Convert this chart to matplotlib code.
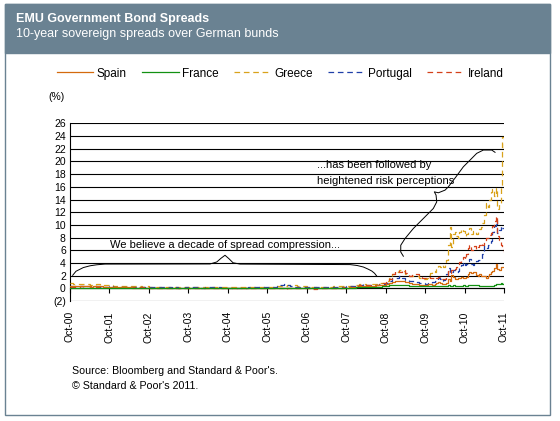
import numpy as np
import pandas as pd
import matplotlib
matplotlib.use("Agg")
import matplotlib.pyplot as plt
from matplotlib.patches import Rectangle

plt.rcParams['font.family'] = ['Liberation Sans', 'DejaVu Sans']

# monthly points up to Sep-09, then twice a month up to Oct-11
monthly_dates = pd.date_range('2000-10-01', '2009-09-01', freq='MS')
semi_dates = pd.date_range('2009-10-01', '2011-10-01', freq='SMS')

greece_m = [0.78, 0.74, 0.70, 0.66, 0.62, 0.64, 0.60, 0.58, 0.62, 0.56, 0.52, 0.50,
            0.45, 0.42, 0.40, 0.38, 0.35, 0.36, 0.33, 0.32, 0.34, 0.30, 0.28, 0.30,
            0.28, 0.26, 0.25, 0.24, 0.22, 0.20, 0.18, 0.20, 0.18, 0.16, 0.18, 0.20,
            0.18, 0.17, 0.16, 0.18, 0.20, 0.22, 0.20, 0.18, 0.16, 0.18, 0.20, 0.22,
            0.24, 0.22, 0.20, 0.18, 0.17, 0.20, 0.22, 0.25, 0.28, 0.25, 0.22, 0.20,
            0.25, 0.28, 0.30, 0.32, 0.35, 0.40, 0.45, 0.50, 0.48, 0.42, 0.35, 0.30,
            0.28, 0.26, 0.25, 0.24, 0.26, 0.25, 0.27, 0.28, 0.30, 0.32, 0.35, 0.38,
            0.35, 0.40, 0.45, 0.55, 0.65, 0.75, 0.60, 0.65, 0.70, 0.75, 0.80, 0.90,
            1.20, 1.60, 2.30, 2.60, 2.90, 2.80, 2.20, 2.00, 2.00, 1.90, 1.70, 1.50]
greece_s = [1.4, 1.6, 2.1, 2.4, 2.6, 2.8,
            2.5, 3.0, 3.5, 3.4, 3.6, 3.3, 3.9, 4.5, 6.8, 9.6, 6.5, 8.6,
            8.9, 8.2, 8.0, 8.9, 9.4, 9.0, 8.2, 8.6, 9.0, 9.5, 8.6, 9.0,
            8.8, 8.5, 8.9, 9.3, 9.6, 10.3, 11.5, 13.5, 12.8, 14.0, 15.2, 15.6,
            14.6, 15.8, 12.5, 13.5, 16.0, 23.8, 21.5]

portugal_m = [0.35, 0.35, 0.33, 0.32, 0.30, 0.30, 0.28, 0.30, 0.30, 0.28, 0.27, 0.28,
              0.30, 0.28, 0.25, 0.24, 0.22, 0.20, 0.20, 0.18, 0.20, 0.20, 0.18, 0.20,
              0.20, 0.18, 0.16, 0.15, 0.14, 0.15, 0.14, 0.12, 0.13, 0.12, 0.12, 0.14,
              0.15, 0.14, 0.13, 0.12, 0.12, 0.13, 0.14, 0.15, 0.14, 0.13, 0.12, 0.12,
              0.12, 0.11, 0.10, 0.10, 0.10, 0.12, 0.13, 0.14, 0.15, 0.16, 0.15, 0.14,
              0.16, 0.20, 0.25, 0.30, 0.55, 0.75, 0.50, 0.30, 0.25, 0.22, 0.20, 0.20,
              0.18, 0.17, 0.16, 0.15, 0.15, 0.16, 0.17, 0.18, 0.20, 0.22, 0.25, 0.28,
              0.30, 0.35, 0.40, 0.50, 0.55, 0.65, 0.55, 0.50, 0.55, 0.60, 0.65, 0.70,
              0.90, 1.20, 1.60, 1.70, 1.90, 1.60, 1.30, 1.20, 1.10, 1.00, 0.90, 0.80]
portugal_s = [0.7, 0.75, 0.8, 0.9, 1.0, 1.0,
              1.1, 1.3, 1.6, 1.4, 1.2, 1.3, 1.5, 2.2, 3.2, 2.4, 2.6, 2.9,
              2.8, 2.6, 2.7, 3.2, 3.6, 4.2, 3.6, 3.9, 4.3, 4.6, 3.8, 3.7,
              4.1, 4.3, 4.5, 4.4, 4.6, 5.4, 6.6, 6.4, 6.8, 6.9, 7.4, 8.8,
              9.8, 10.7, 8.7, 9.2, 9.9, 9.5, 9.3]

ireland_m = [0.25, 0.27, 0.28, 0.30, 0.28, 0.30, 0.32, 0.30, 0.28, 0.30, 0.27, 0.25,
             0.25, 0.24, 0.22, 0.20, 0.18, 0.18, 0.16, 0.15, 0.16, 0.15, 0.14, 0.14,
             0.12, 0.10, 0.10, 0.09, 0.08, 0.08, 0.07, 0.08, 0.07, 0.06, 0.06, 0.06,
             0.05, 0.05, 0.05, 0.04, 0.05, 0.05, 0.04, 0.04, 0.04, 0.05, 0.05, 0.05,
             0.04, 0.03, 0.03, 0.03, 0.04, 0.05, 0.05, 0.04, 0.04, 0.03, 0.03, 0.03,
             0.03, 0.03, 0.02, 0.00, -0.02, -0.04, 0.00, 0.02, 0.03, 0.02, 0.02, 0.03,
             0.02, 0.00, -0.05, -0.02, 0.02, 0.03, 0.05, 0.04, 0.05, 0.08, 0.12, 0.15,
             0.18, 0.22, 0.28, 0.35, 0.45, 0.60, 0.45, 0.50, 0.55, 0.60, 0.70, 0.85,
             1.00, 1.50, 2.20, 2.80, 2.60, 2.90, 2.40, 2.00, 2.30, 2.20, 1.80, 1.70]
ireland_s = [1.6, 1.7, 1.8, 1.7, 1.7, 1.6,
             1.5, 1.6, 1.8, 1.6, 1.5, 1.4, 1.5, 1.8, 2.8, 2.4, 2.9, 2.7,
             3.0, 3.4, 3.6, 4.2, 4.6, 5.0, 4.6, 5.4, 6.3, 6.8, 6.0, 6.4,
             6.7, 6.2, 6.5, 6.8, 7.2, 6.8, 7.5, 7.9, 8.0, 8.4, 8.7, 9.8,
             10.6, 11.4, 8.2, 7.6, 6.8, 6.4, 5.8]

spain_m = [0.30, 0.32, 0.35, 0.33, 0.30, 0.30, 0.28, 0.30, 0.32, 0.30, 0.28, 0.28,
           0.28, 0.25, 0.22, 0.20, 0.18, 0.15, 0.14, 0.12, 0.12, 0.10, 0.10, 0.10,
           0.10, 0.08, 0.08, 0.07, 0.06, 0.06, 0.05, 0.06, 0.05, 0.05, 0.04, 0.04,
           0.04, 0.03, 0.03, 0.03, 0.03, 0.02, 0.02, 0.03, 0.03, 0.03, 0.02, 0.02,
           0.02, 0.02, 0.02, 0.01, 0.01, 0.02, 0.02, 0.03, 0.02, 0.01, 0.01, 0.01,
           0.01, 0.01, 0.00, -0.01, -0.02, 0.00, 0.02, 0.03, 0.02, 0.02, 0.03, 0.03,
           0.03, 0.02, 0.02, 0.03, 0.04, 0.05, 0.05, 0.06, 0.06, 0.08, 0.10, 0.12,
           0.10, 0.15, 0.18, 0.25, 0.30, 0.40, 0.30, 0.35, 0.40, 0.50, 0.55, 0.60,
           0.70, 0.90, 1.00, 1.20, 1.10, 1.10, 1.00, 0.80, 0.70, 0.65, 0.60, 0.60]
spain_s = [0.6, 0.6, 0.65, 0.7, 0.6, 0.6,
           0.65, 0.8, 0.95, 0.8, 0.75, 0.7, 0.75, 0.9, 1.5, 1.2, 2.1, 1.8,
           1.5, 1.4, 1.6, 1.7, 1.8, 1.6, 1.6, 1.8, 2.3, 2.6, 2.4, 2.6,
           2.5, 2.1, 2.0, 2.2, 2.0, 1.9, 1.9, 1.7, 2.0, 2.3, 2.5, 2.7,
           3.2, 3.9, 3.0, 2.9, 3.3, 3.4, 3.3]

france_m = [0.10, 0.10, 0.10, 0.08, 0.08, 0.08, 0.07, 0.07, 0.07, 0.06, 0.06, 0.06,
            0.06, 0.05, 0.05, 0.05, 0.05, 0.05, 0.04, 0.04, 0.04, 0.04, 0.04, 0.04,
            0.04, 0.04, 0.04, 0.04, 0.03, 0.03, 0.03, 0.03, 0.03, 0.03, 0.03, 0.03,
            0.03, 0.03, 0.03, 0.03, 0.03, 0.03, 0.03, 0.03, 0.03, 0.03, 0.03, 0.03,
            0.03, 0.03, 0.03, 0.03, 0.03, 0.03, 0.03, 0.03, 0.03, 0.03, 0.03, 0.03,
            0.03, 0.03, 0.03, 0.03, 0.03, 0.03, 0.03, 0.03, 0.03, 0.03, 0.03, 0.03,
            0.03, 0.03, 0.03, 0.04, 0.04, 0.04, 0.05, 0.05, 0.05, 0.06, 0.07, 0.08,
            0.08, 0.10, 0.12, 0.15, 0.20, 0.25, 0.20, 0.18, 0.20, 0.22, 0.25, 0.30,
            0.40, 0.50, 0.55, 0.60, 0.50, 0.50, 0.45, 0.40, 0.35, 0.30, 0.30, 0.30]
france_s = [0.3, 0.3, 0.35, 0.35, 0.3, 0.3,
            0.3, 0.35, 0.4, 0.35, 0.35, 0.3, 0.3, 0.35, 0.45, 0.4, 0.4, 0.45,
            0.4, 0.35, 0.35, 0.35, 0.4, 0.45, 0.35, 0.4, 0.5, 0.55, 0.45, 0.5,
            0.45, 0.45, 0.45, 0.4, 0.4, 0.4, 0.35, 0.35, 0.35, 0.4, 0.4, 0.4,
            0.5, 0.7, 0.7, 0.75, 0.8, 0.75, 0.8]

tick_labels = ['Oct-00', 'Oct-01', 'Oct-02', 'Oct-03', 'Oct-04', 'Oct-05',
               'Oct-06', 'Oct-07', 'Oct-08', 'Oct-09', 'Oct-10', 'Oct-11']
y_ticks = [-2, 0, 2, 4, 6, 8, 10, 12, 14, 16, 18, 20, 22, 24, 26]

# hand drawn braces of the callouts, in (year, %) units
brace1_x = [2000.818, 2000.902, 2001.087, 2001.257, 2001.427, 2001.637, 2004.299,
            2004.469, 2004.578, 2004.679, 2004.780, 2004.882, 2005.059, 2007.848,
            2008.025, 2008.185, 2008.304, 2008.398, 2008.469, 2008.519]
brace1_y = [2.05, 2.69, 3.27, 3.55, 3.71, 3.82, 3.84, 4.15, 4.74, 5.21, 4.66, 4.03,
            3.82, 3.74, 3.60, 3.36, 3.03, 2.73, 2.37, 1.97]
brace2_x = [2009.199, 2009.133, 2009.133, 2009.242, 2009.452, 2009.706, 2009.959,
            2010.045, 2010.028, 2009.984, 2010.086, 2010.256, 2010.339, 2010.509,
            2010.720, 2010.890, 2011.059, 2011.227, 2011.439, 2011.523]
brace2_y = [5.06, 5.73, 6.79, 7.85, 9.43, 11.01, 12.59, 13.63, 14.69, 15.21, 15.06,
            15.48, 16.00, 17.38, 19.16, 20.22, 21.28, 21.80, 21.80, 21.44]


def to_year(dates):
    return dates.year + (dates.month - 1) / 12 + (dates.day - 1) / 365


x = np.concatenate([to_year(monthly_dates), to_year(semi_dates)])

BAR = '#6A8292'
fig = plt.figure(figsize=(5.6, 4.21), dpi=100)

# frame and title bar, kept under the axes
fig.patches.append(Rectangle((5 / 560, 1 - 415 / 421), 545 / 560, 411 / 421,
                             transform=fig.transFigure, facecolor='white',
                             edgecolor=BAR, lw=1, zorder=-2))
fig.patches.append(Rectangle((5 / 560, 1 - 53 / 421), 545 / 560, 49 / 421,
                             transform=fig.transFigure, facecolor=BAR,
                             edgecolor=BAR, lw=1, zorder=-1))
fig.text(16 / 560, 1 - 18.6 / 421, 'EMU Government Bond Spreads', color='white',
         fontsize=9, fontweight='bold', va='center', ha='left')
fig.text(16 / 560, 1 - 34 / 421, '10-year sovereign spreads over German bunds',
         color='white', fontsize=9, va='center', ha='left')

ax = fig.add_axes([70 / 560, 1 - 301 / 421, 434 / 560, (301 - 123.4) / 421])
ax.set_zorder(2)

dash = (0, (4.5, 3))
series = [
    ('Greece', greece_m + greece_s, '#D9A21B', dash),
    ('Portugal', portugal_m + portugal_s, '#1F3FA8', dash),
    ('Ireland', ireland_m + ireland_s, '#D4401A', dash),
    ('Spain', spain_m + spain_s, '#D46A0E', '-'),
    ('France', france_m + france_s, '#129112', '-'),
]
handles = {}
for name, vals, col, ls in series:
    ln, = ax.plot(x, vals, color=col, ls=ls, lw=0.9, label=name, zorder=3,
                  drawstyle='steps-post')
    handles[name] = ln

ax.set_ylim(-2, 26)
ax.set_yticks(y_ticks)
ax.set_yticklabels(['(2)' if v < 0 else str(v) for v in y_ticks])
ax.set_xticks([2000.75 + i for i in range(len(tick_labels))])
ax.set_xticklabels(tick_labels)
ax.set_xlim(2000.75, 2011.75)

ax.set_axisbelow(True)
ax.yaxis.grid(True, color='black', lw=0.8)
for s in ['top', 'right']:
    ax.spines[s].set_visible(False)
ax.spines['bottom'].set_position(('data', 0))
ax.spines['bottom'].set_linewidth(0.8)
ax.spines['left'].set_linewidth(0.8)
ax.tick_params(axis='y', length=0, pad=3, labelsize=7.5)
ax.tick_params(axis='x', length=3.5, width=0.8, direction='out', pad=13,
               labelsize=7.5, labelrotation=90)
ax.patch.set_visible(False)

# callouts
ax.plot(brace1_x, brace1_y, color='black', lw=0.7, zorder=4)
ax.plot(brace2_x, brace2_y, color='black', lw=0.7, zorder=4)
ax.text(2004.679, 6.8, 'We believe a decade of spread compression...',
        ha='center', va='center', fontsize=8)
ax.text(2007.004, 19.4, '...has been followed by', ha='left', va='center', fontsize=8)
ax.text(2007.004, 16.95, 'heightened risk perceptions', ha='left', va='center', fontsize=8)

order = ['Spain', 'France', 'Greece', 'Portugal', 'Ireland']
fig.legend([handles[n] for n in order], order, loc='center',
           bbox_to_anchor=(280 / 560, 1 - 73.6 / 421), ncol=5, frameon=False,
           fontsize=8.5, handlelength=3.1, handletextpad=0.3, columnspacing=1.3)

fig.text(48 / 560, 1 - 97.5 / 421, '(%)', fontsize=7.5, va='center', ha='left')
fig.text(72 / 560, 1 - 370.7 / 421, "Source: Bloomberg and Standard & Poor's.",
         fontsize=7.7, va='center', ha='left')
fig.text(72 / 560, 1 - 386 / 421, "\u00a9 Standard & Poor's 2011.",
         fontsize=7.7, va='center', ha='left')

fig.savefig('out.png', dpi=100)
